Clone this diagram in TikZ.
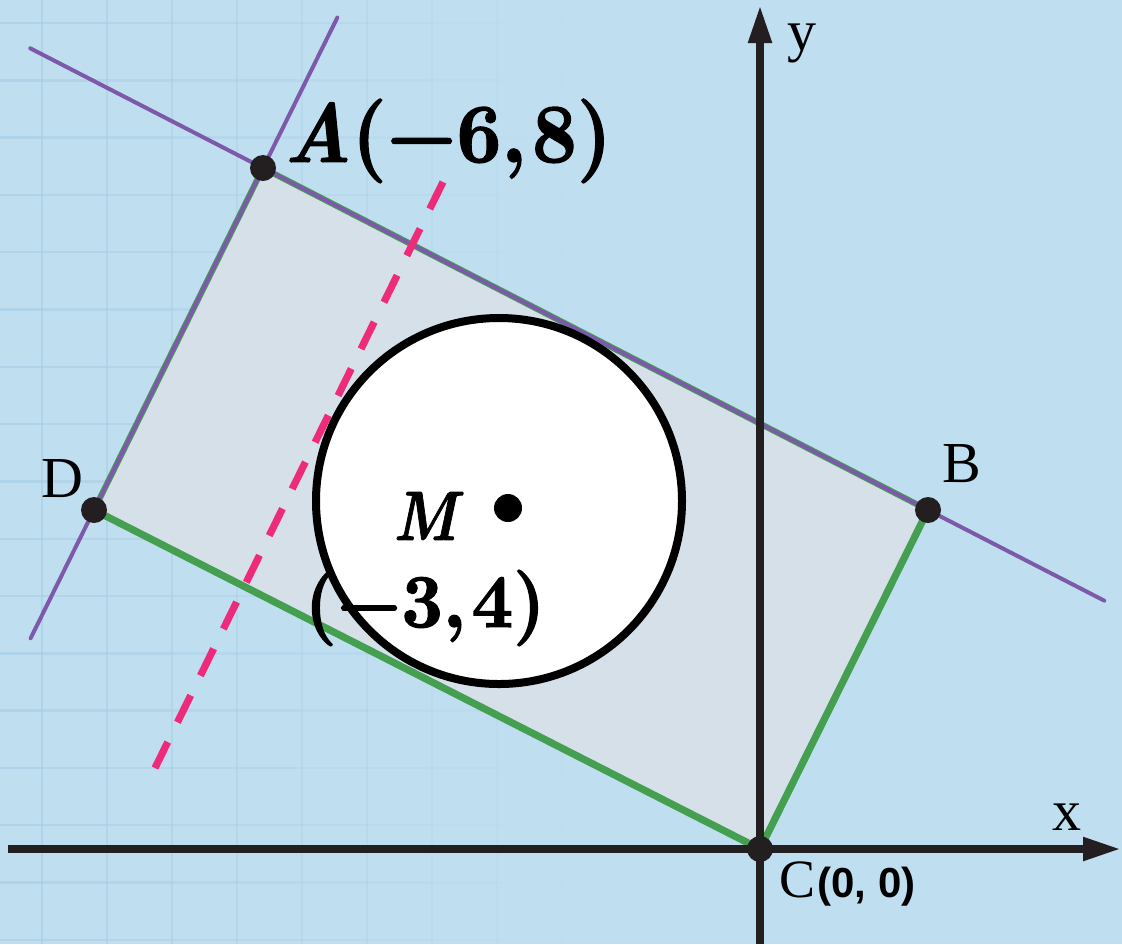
\documentclass[tikz,border=0pt]{standalone}
\usepackage{fontspec}
\usepackage{graphicx}
\newfontfamily\tnr{Liberation Serif}
\newfontfamily\snb{Liberation Sans}
\newfontfamily\heavy{lmroman10-bold.otf}[FakeBold=1.6]
\newfontfamily\heavyit{lmroman10-bolditalic.otf}[FakeBold=1.2]
\usetikzlibrary{calc,arrows.meta}
\definecolor{bgblue}{HTML}{BFDFF1}
\definecolor{rectfill}{HTML}{D5E0E8}
\definecolor{gridc}{HTML}{AACFE6}
\definecolor{purp}{HTML}{7C5AA9}
\definecolor{grn}{HTML}{449F50}
\definecolor{pinkc}{HTML}{EE2B7B}
\definecolor{ink}{HTML}{231F20}
\tikzset{
  gridline/.style={gridc, line width=1.2pt},
  thingreen/.style={grn, line width=3pt},
  purpline/.style={purp, line width=2pt, line cap=round},
  thickgreen/.style={grn, line width=3.6pt, line cap=round},
  pinkdash/.style={pinkc, line width=3.6pt, dash pattern=on 15pt off 11pt},
  axisline/.style={ink, line width=4pt, -{Triangle[length=19pt, width=11pt]}},
  vdot/.style={circle, fill=ink, inner sep=0pt, minimum size=13pt},
  plainlbl/.style={font=\fontsize{29}{34}\selectfont\tnr, text=black, inner sep=0pt},
  mathlbl/.style={text=black, inner sep=0pt},
}
\begin{document}
\begin{tikzpicture}[x=0.5pt, y=-0.5pt]
\fill[bgblue] (0,0) rectangle (1122,944);
\useasboundingbox (0,0) rectangle (1122,944);
% faint grid, fading to the right
\foreach \k in {0,...,8}{
  \pgfmathsetmacro{\op}{max(0,0.75-\k*0.085)}
  \draw[gridline, opacity=\op] ({42+65*\k},0) -- ({42+65*\k},944);
  \foreach \j in {0,...,16}{
    \draw[gridline, opacity=\op] ({42+65*(\k-1)},{23+57.3*\j}) -- ({42+65*\k},{23+57.3*\j});
  }
}
% points
\coordinate (A) at (263,168);
\coordinate (B) at (928,510);
\coordinate (C) at (760,849);
\coordinate (D) at (94,510);
\coordinate (AB1) at ($(A)!-0.35!(B)$);
\coordinate (AB2) at ($(A)!1.265!(B)$);
\coordinate (AD1) at ($(A)!-0.44!(D)$);
\coordinate (AD2) at ($(A)!1.375!(D)$);
\coordinate (P1) at (443,182);
\coordinate (P2) at (155,768);
\coordinate (XL) at (8,849);
\coordinate (XR) at (1121,849);
\coordinate (YB) at (760,944);
\coordinate (YT) at (760,5);
% rectangle
\fill[rectfill] (A) -- (B) -- (C) -- (D) -- cycle;
\draw[thingreen] (D) -- (A) -- (B);
\draw[purpline] (AB1) -- (AB2);
\draw[purpline] (AD1) -- (AD2);
\draw[thickgreen] (D) -- (C) -- (B);
% dashed pink line
\draw[pinkdash] (P1) -- (P2);
% circle
\node[circle, draw=black, line width=4pt, fill=white, minimum size=183pt, inner sep=0pt] (circ) at (499,501) {};
% axes
\draw[axisline] (XL) -- (XR);
\draw[axisline] (YB) -- (YT);
% dots
\node[vdot] (dA) at (A) {};
\node[vdot] (dB) at (B) {};
\node[vdot] (dC) at (C) {};
\node[vdot] (dD) at (D) {};
\node[circle, fill=black, inner sep=0pt, minimum size=14pt] (dM) at (508,508) {};
% labels
\node[plainlbl, anchor=base] (ylbl) at (802,50) {y};
\node[plainlbl, anchor=base] (xlbl) at (1067,830) {x};
\node[plainlbl, anchor=base] (blbl) at (962,482) {B};
\node[plainlbl, anchor=base] (dlbl) at (62,497) {D};
\node[plainlbl, anchor=base west] (clbl) at (779,897) {\fontsize{27}{32}\selectfont C\kern1pt{\snb\bfseries\fontsize{21}{25}\selectfont(0, 0)}};
\node[mathlbl, anchor=base] (albl) at (448,162) {\scalebox{0.93}[1]{\fontsize{42}{50}\selectfont{\heavyit A}{\heavy(−6,\kern3pt8)}}};
\node[mathlbl, anchor=base] (mlbl) at (425,540) {\scalebox{0.85}[1]{\fontsize{35}{42}\selectfont\heavyit M}};
\node[mathlbl, anchor=base] (mclbl) at (425,627) {\scalebox{0.95}[1]{\fontsize{38}{46}\selectfont\heavy(−3,\kern3pt4)}};
\end{tikzpicture}
\end{document}
